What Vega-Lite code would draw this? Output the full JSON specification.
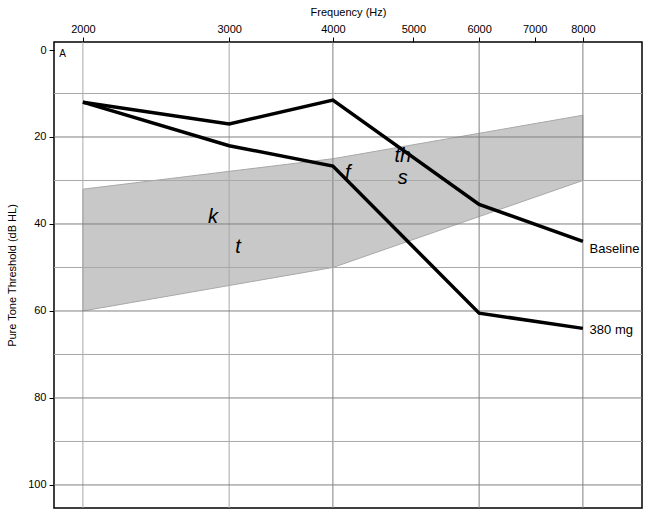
{
  "$schema": "https://vega.github.io/schema/vega-lite/v6.json",
  "width": 588,
  "height": 466,
  "autosize": "none",
  "padding": {"left": 54, "top": 42, "right": 7, "bottom": 10},
  "background": "white",
  "config": {
    "view": {"stroke": "black", "strokeWidth": 1.5},
    "font": "Liberation Sans",
    "axis": {"labelFont": "Liberation Sans", "titleFont": "Liberation Sans", "labelFontSize": 11, "titleFontSize": 11, "titleFontWeight": "normal", "labelColor": "black", "titleColor": "black", "tickColor": "black", "domain": false, "grid": false, "tickSize": 5}
  },
  "datasets": {
    "band": [
      {"freq": 2000, "hi": 32, "lo": 60},
      {"freq": 4000, "hi": 25, "lo": 50},
      {"freq": 8000, "hi": 15, "lo": 30}
    ],
    "lines": [
      {"series": "Baseline", "freq": 2000, "db": 12},
      {"series": "Baseline", "freq": 3000, "db": 17},
      {"series": "Baseline", "freq": 4000, "db": 11.5},
      {"series": "Baseline", "freq": 6000, "db": 35.5},
      {"series": "Baseline", "freq": 8000, "db": 44},
      {"series": "380 mg", "freq": 2000, "db": 12},
      {"series": "380 mg", "freq": 3000, "db": 22},
      {"series": "380 mg", "freq": 4000, "db": 26.7},
      {"series": "380 mg", "freq": 6000, "db": 60.5},
      {"series": "380 mg", "freq": 8000, "db": 64}
    ],
    "vgrid": [
      {"freq": 2000, "major": "no"},
      {"freq": 3000, "major": "no"},
      {"freq": 4000, "major": "yes"},
      {"freq": 6000, "major": "yes"},
      {"freq": 8000, "major": "yes"}
    ],
    "hgrid": [
      {"db": 10, "major": "no"},
      {"db": 20, "major": "yes"},
      {"db": 30, "major": "no"},
      {"db": 40, "major": "yes"},
      {"db": 50, "major": "no"},
      {"db": 60, "major": "yes"},
      {"db": 70, "major": "no"},
      {"db": 80, "major": "yes"},
      {"db": 90, "major": "no"},
      {"db": 100, "major": "yes"}
    ],
    "phonemes": [
      {"freq": 2868, "db": 38.4, "label": "k"},
      {"freq": 3074, "db": 45.3, "label": "t"},
      {"freq": 4170, "db": 28.3, "label": "f"},
      {"freq": 4856, "db": 24.4, "label": "th"},
      {"freq": 4856, "db": 29.4, "label": "s"}
    ],
    "serieslabels": [
      {"freq": 8150, "db": 45.7, "label": "Baseline"},
      {"freq": 8150, "db": 64.3, "label": "380 mg"}
    ],
    "panel": [
      {"freq": 1890, "db": 1, "label": "A"}
    ]
  },
  "layer": [
    {
      "data": {"name": "band"},
      "mark": {"type": "area", "color": "#c8c8c8", "stroke": "#a8a8a8", "strokeWidth": 1, "opacity": 1},
      "encoding": {
        "x": {"field": "freq", "type": "quantitative", "scale": {"type": "log", "domain": [1846, 9425], "nice": false},
          "axis": {"orient": "top", "values": [2000, 3000, 4000, 5000, 6000, 7000, 8000], "format": "d", "title": "Frequency (Hz)", "labelPadding": 3, "titlePadding": 6, "labelFlush": false}},
        "y": {"field": "hi", "type": "quantitative", "scale": {"domain": [-1.84, 105.3], "reverse": true, "nice": false, "zero": false},
          "axis": {"values": [0, 20, 40, 60, 80, 100], "title": "Pure Tone Threshold (dB HL)", "labelPadding": 3, "titlePadding": 10}},
        "y2": {"field": "lo"}
      }
    },
    {
      "data": {"name": "vgrid"},
      "mark": {"type": "rule", "strokeWidth": 1},
      "encoding": {
        "x": {"field": "freq", "type": "quantitative"},
        "color": {"field": "major", "type": "nominal", "scale": {"domain": ["yes", "no"], "range": ["#808080", "#a8a8a8"]}, "legend": null}
      }
    },
    {
      "data": {"name": "hgrid"},
      "mark": {"type": "rule", "strokeWidth": 1},
      "encoding": {
        "y": {"field": "db", "type": "quantitative"},
        "color": {"field": "major", "type": "nominal", "legend": null}
      }
    },
    {
      "data": {"name": "lines"},
      "mark": {"type": "line", "color": "black", "strokeWidth": 3.5, "strokeJoin": "miter"},
      "encoding": {
        "x": {"field": "freq", "type": "quantitative"},
        "y": {"field": "db", "type": "quantitative"},
        "detail": {"field": "series"}
      }
    },
    {
      "data": {"name": "phonemes"},
      "mark": {"type": "text", "fontSize": 20, "fontStyle": "italic", "font": "Liberation Sans", "color": "black", "baseline": "middle", "align": "center"},
      "encoding": {
        "x": {"field": "freq", "type": "quantitative"},
        "y": {"field": "db", "type": "quantitative"},
        "text": {"field": "label"}
      }
    },
    {
      "data": {"name": "serieslabels"},
      "mark": {"type": "text", "fontSize": 13, "font": "Liberation Sans", "color": "black", "baseline": "middle", "align": "left"},
      "encoding": {
        "x": {"field": "freq", "type": "quantitative"},
        "y": {"field": "db", "type": "quantitative"},
        "text": {"field": "label"}
      }
    },
    {
      "data": {"name": "panel"},
      "mark": {"type": "text", "fontSize": 10, "font": "Liberation Sans", "color": "black", "baseline": "middle", "align": "center"},
      "encoding": {
        "x": {"field": "freq", "type": "quantitative"},
        "y": {"field": "db", "type": "quantitative"},
        "text": {"field": "label"}
      }
    }
  ]
}
